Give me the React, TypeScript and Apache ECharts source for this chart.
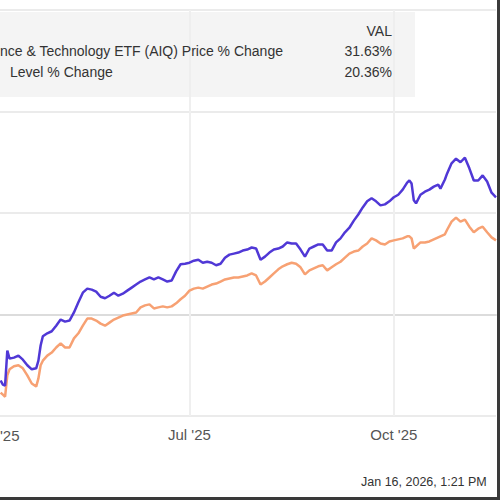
import React, { useEffect, useRef } from "react";
import * as echarts from "echarts";

const dates = [
  "2025-04-07","2025-04-08","2025-04-09","2025-04-10","2025-04-11","2025-04-13","2025-04-15","2025-04-17","2025-04-19","2025-04-21","2025-04-23","2025-04-24","2025-04-25","2025-04-26","2025-04-28","2025-04-30",
  "2025-05-02","2025-05-04","2025-05-06","2025-05-08","2025-05-10","2025-05-12","2025-05-14","2025-05-16","2025-05-18","2025-05-20","2025-05-22","2025-05-24","2025-05-26","2025-05-28","2025-05-30",
  "2025-06-01","2025-06-03","2025-06-05","2025-06-07","2025-06-09","2025-06-11","2025-06-13","2025-06-15","2025-06-17","2025-06-19","2025-06-21","2025-06-23","2025-06-25","2025-06-27","2025-06-29",
  "2025-07-01","2025-07-03","2025-07-05","2025-07-07","2025-07-09","2025-07-11","2025-07-13","2025-07-15","2025-07-17","2025-07-19","2025-07-21","2025-07-23","2025-07-25","2025-07-27","2025-07-29","2025-07-31",
  "2025-08-02","2025-08-04","2025-08-06","2025-08-08","2025-08-10","2025-08-12","2025-08-14","2025-08-16","2025-08-18","2025-08-20","2025-08-22","2025-08-24","2025-08-26","2025-08-28","2025-08-30",
  "2025-09-01","2025-09-03","2025-09-05","2025-09-07","2025-09-09","2025-09-11","2025-09-13","2025-09-15","2025-09-17","2025-09-19","2025-09-21","2025-09-23","2025-09-25","2025-09-27","2025-09-29",
  "2025-10-01","2025-10-03","2025-10-05","2025-10-07","2025-10-08","2025-10-09","2025-10-10","2025-10-11","2025-10-13","2025-10-15","2025-10-17","2025-10-19","2025-10-21","2025-10-22","2025-10-24","2025-10-25","2025-10-27","2025-10-29","2025-10-31",
  "2025-11-02","2025-11-04","2025-11-06","2025-11-08","2025-11-10","2025-11-12","2025-11-14","2025-11-16",
];

const aiqChange = [
  -13.0,-13.8,-14.0,-7.1,-8.7,-8.5,-8.1,-8.9,-10.0,-10.8,-10.6,-9.1,-6.1,-4.3,-3.7,-3.3,
  -2.2,-1.0,-1.4,-1.2,0.4,2.4,4.3,5.1,4.9,4.5,3.5,3.2,3.7,4.3,3.7,
  4.1,4.7,5.3,5.9,6.5,6.9,7.3,6.9,7.3,6.9,6.5,6.7,8.5,9.9,10.0,
  10.2,10.6,10.8,10.2,10.4,10.2,9.7,10.0,11.2,11.8,12.0,12.2,12.6,12.8,13.2,13.0,
  10.8,11.4,12.2,12.8,13.0,13.4,14.2,14.0,14.0,12.8,11.4,13.0,13.4,13.8,13.8,
  12.6,12.6,14.2,15.0,16.2,17.1,18.5,19.7,21.1,22.3,22.9,22.3,21.5,21.7,22.3,
  23.1,23.6,24.6,26.0,26.4,25.8,22.5,21.9,23.6,24.2,24.6,25.2,25.6,24.8,26.6,27.8,29.8,30.7,30.0,
  30.9,28.8,26.4,26.4,27.4,26.2,24.0,23.1,
];

const indexChange = [
  -15.4,-15.8,-16.2,-12.0,-10.8,-10.2,-10.0,-10.6,-12.0,-13.6,-14.2,-12.6,-10.0,-9.1,-8.1,-7.5,
  -6.5,-5.7,-6.5,-6.5,-4.7,-3.7,-2.2,-0.8,-0.8,-1.2,-1.8,-2.2,-1.6,-1.0,-0.6,
  -0.2,0.0,0.2,0.4,1.4,1.8,2.0,1.2,1.4,1.6,1.4,1.6,2.2,3.0,3.7,
  4.7,5.1,5.3,5.1,5.5,5.9,6.1,6.5,6.9,7.1,7.3,7.3,7.5,7.7,8.1,7.7,
  5.9,6.5,7.3,8.1,8.9,9.5,9.9,10.2,10.0,9.3,7.9,8.7,9.1,9.5,9.7,
  8.7,9.3,9.9,10.4,11.2,12.0,12.4,12.6,13.4,14.0,15.0,14.6,14.0,13.8,14.4,
  14.6,14.8,15.0,15.4,15.4,15.0,13.0,13.4,14.2,14.2,14.4,14.8,15.2,15.4,15.8,16.7,18.3,19.1,18.3,
  18.7,17.3,16.2,16.9,17.3,16.2,15.2,14.6,
];

const tickDates = ["2025-07-01", "2025-10-01"];
const tickLabels = ["Jul '25", "Oct '25"];
const legendNames = ["nce & Technology ETF (AIQ) Price % Change", "Level % Change"];
const legendValues = ["31.63%", "20.36%"];
const legendHeader = "VAL";
const partialTick = "'25";
const timestamp = "Jan 16, 2026, 1:21 PM";

const FONT = "'Liberation Sans', Arial, sans-serif";

export default function App() {
  const ref = useRef<HTMLDivElement>(null);
  useEffect(() => {
    document.body.style.margin = "0";
    if (!ref.current) return;
    const chart = echarts.init(ref.current, null, { renderer: "svg" });
    const option = {
      animation: false,
      backgroundColor: "#ffffff",
      grid: { left: 0, right: 4, top: 10, bottom: 84 },
      xAxis: {
        type: "time",
        min: "2025-04-06 17:00",
        max: "2025-11-16 00:00",
        axisLine: { show: true, lineStyle: { color: "#dcdcdc", width: 2 } },
        axisTick: { show: false },
        axisLabel: { show: false },
        splitLine: { show: false },
      },
      yAxis: {
        type: "value",
        min: -20,
        max: 60,
        interval: 20,
        axisLine: { show: false },
        axisTick: { show: false },
        axisLabel: { show: false },
        splitLine: { show: true, lineStyle: { color: "#ebebeb", width: 2 } },
      },
      series: [
        {
          type: "line",
          data: [],
          silent: true,
          z: 1,
          markLine: {
            silent: true,
            z: 1,
            symbol: ["none", "none"],
            lineStyle: { color: "#efefef", width: 2, type: "solid" },
            label: {
              show: true,
              position: "start",
              distance: 11,
              formatter: (p: any) => p.name,
              color: "#555",
              fontSize: 15,
              fontFamily: FONT,
            },
            data: tickDates.map((d, i) => ({ name: tickLabels[i], xAxis: d })),
          },
        },
        {
          name: "Index",
          type: "line",
          data: dates.map((d, i) => [d, indexChange[i]]),
          showSymbol: false,
          lineStyle: { color: "#f7a173", width: 2.5 },
          itemStyle: { color: "#f7a173" },
          z: 3,
        },
        {
          name: "AIQ",
          type: "line",
          data: dates.map((d, i) => [d, aiqChange[i]]),
          showSymbol: false,
          lineStyle: { color: "#5038d6", width: 2.5 },
          itemStyle: { color: "#5038d6" },
          z: 4,
        },
      ],
      graphic: [
        {
          type: "rect",
          z: 10,
          shape: { x: 0, y: 12, width: 415, height: 85 },
          style: { fill: "rgba(236,236,236,0.6)" },
        },
        {
          type: "text",
          z: 11,
          style: { x: 392, y: 31, text: legendHeader, textAlign: "right", textVerticalAlign: "middle", fill: "#333", font: `14px ${FONT}` },
        },
        ...legendNames.map((n, i) => ({
          type: "text",
          z: 11,
          style: { x: i === 0 ? 0 : 10, y: 51 + i * 21, text: n, textAlign: "left", textVerticalAlign: "middle", fill: "#333", font: `14px ${FONT}` },
        })),
        ...legendValues.map((v, i) => ({
          type: "text",
          z: 11,
          style: { x: 392, y: 51 + i * 21, text: v, textAlign: "right", textVerticalAlign: "middle", fill: "#333", font: `14px ${FONT}` },
        })),
        {
          type: "text",
          z: 11,
          style: { x: 0, y: 435, text: partialTick, textAlign: "left", textVerticalAlign: "middle", fill: "#555", font: `15px ${FONT}` },
        },
        {
          type: "text",
          z: 11,
          style: { x: 361, y: 482, text: timestamp, textAlign: "left", textVerticalAlign: "middle", fill: "#333", font: `12.5px ${FONT}` },
        },
        {
          type: "rect",
          z: 20,
          shape: { x: 497, y: 0, width: 3, height: 500 },
          style: { fill: "#3a3a3a" },
        },
        {
          type: "rect",
          z: 20,
          shape: { x: 0, y: 497, width: 500, height: 3 },
          style: { fill: "#3a3a3a" },
        },
      ],
    };
    chart.setOption(option as any);
    return () => chart.dispose();
  }, []);
  return <div ref={ref} style={{ width: 500, height: 500 }} />;
}
